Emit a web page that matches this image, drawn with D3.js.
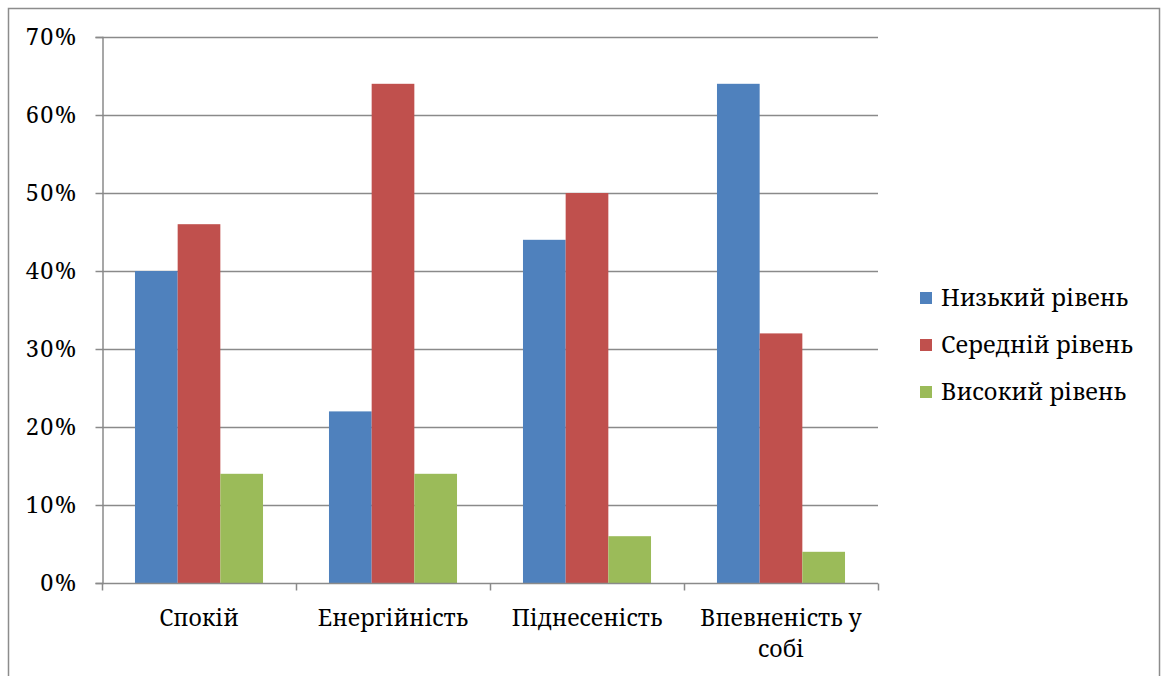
<!DOCTYPE html>
<html>
<head>
<meta charset="utf-8">
<script src="https://cdn.jsdelivr.net/npm/d3@7"></script>
<style>
  html, body { margin: 0; padding: 0; background: #fff; }
  svg { display: block; }
</style>
</head>
<body>
<script>
// Categories, series and values
const categories = ["Спокій", "Енергійність", "Піднесеність", "Впевненість у собі"];
const seriesNames = ["Низький рівень", "Середній рівень", "Високий рівень"];
const lowLevel = [40, 22, 44, 64];
const midLevel = [46, 64, 50, 32];
const highLevel = [14, 14, 6, 4];
const seriesColors = ["#4F81BD", "#C0504D", "#9BBB59"];
const yTicks = [0, 10, 20, 30, 40, 50, 60, 70];

const seriesValues = [lowLevel, midLevel, highLevel];
const W = 1169, H = 676;
const font = "'Noto Serif', serif";

const svg = d3.select("body").append("svg").attr("width", W).attr("height", H);

// outer chart frame
svg.append("rect")
  .attr("x", 8.5).attr("y", 8.5).attr("width", 1151).attr("height", 700)
  .attr("fill", "none").attr("stroke", "#8c8c8c").attr("stroke-width", 1.5);

const plot = { left: 102, right: 878, top: 37, bottom: 583 };

const x0 = d3.scaleBand().domain(categories).range([plot.left, plot.right]).padding(0);
const x1 = d3.scaleBand().domain(seriesNames)
  .range([x0.bandwidth() * 0.17, x0.bandwidth() * 0.83]).padding(0);
const y = d3.scaleLinear().domain([0, 70]).range([plot.bottom, plot.top]);

const gridColor = "#8a8a8a";

// horizontal gridlines
svg.append("g").selectAll("line").data(yTicks.filter(t => t > 0)).join("line")
  .attr("x1", plot.left).attr("x2", plot.right)
  .attr("y1", d => Math.round(y(d)) + 0.5).attr("y2", d => Math.round(y(d)) + 0.5)
  .attr("stroke", gridColor).attr("stroke-width", 1.5);

// y axis
const yAxis = d3.axisLeft(y).tickValues(yTicks).tickFormat(d => d + "%").tickSize(7).tickPadding(18);
const gy = svg.append("g").attr("transform", `translate(${plot.left + 0.5},0)`).call(yAxis)
  .attr("font-family", null).attr("font-size", null);
gy.select(".domain").attr("stroke", gridColor).attr("stroke-width", 1.5);
gy.selectAll(".tick line").attr("stroke", gridColor).attr("stroke-width", 1.5);
gy.selectAll(".tick text")
  .style("font-family", font).style("font-size", "23.5px").style("letter-spacing", "1.5px")
  .attr("fill", "#000");

// bars
const groups = svg.append("g").selectAll("g").data(categories).join("g")
  .attr("transform", d => `translate(${x0(d)},0)`);
groups.selectAll("rect")
  .data((c, i) => seriesNames.map((s, k) => ({ s, k, v: seriesValues[k][i] })))
  .join("rect")
  .attr("x", d => x1(d.s))
  .attr("width", x1.bandwidth())
  .attr("y", d => y(d.v))
  .attr("height", d => y(0) - y(d.v))
  .attr("fill", d => seriesColors[d.k]);

// x axis with category ticks at band boundaries
const gx = svg.append("g").attr("transform", `translate(0,${plot.bottom + 0.5})`);
gx.append("line").attr("x1", plot.left).attr("x2", plot.right)
  .attr("stroke", gridColor).attr("stroke-width", 1.5);
const bounds = categories.map(c => x0(c)).concat([plot.right]);
gx.selectAll("line.tk").data(bounds).join("line").attr("class", "tk")
  .attr("x1", d => d + 0.5).attr("x2", d => d + 0.5).attr("y1", 0).attr("y2", 7)
  .attr("stroke", gridColor).attr("stroke-width", 1.5);

// category labels, wrapped when too wide
const labelLines = { "Впевненість у собі": ["Впевненість у", "собі"] };
gx.selectAll("text.cat").data(categories).join("text").attr("class", "cat")
  .style("font-family", font).style("font-size", "23px").attr("fill", "#000")
  .attr("text-anchor", "middle")
  .each(function (c) {
    const lines = labelLines[c] || [c];
    const t = d3.select(this);
    lines.forEach((ln, i) => {
      t.append("tspan").attr("x", x0(c) + x0.bandwidth() / 2)
        .attr("y", 42 + i * 31).text(ln);
    });
  });

// legend
const legend = svg.append("g").attr("transform", "translate(920,298)");
const items = legend.selectAll("g").data(seriesNames).join("g")
  .attr("transform", (d, i) => `translate(0,${i * 47})`);
items.append("rect").attr("x", 0).attr("y", -6).attr("width", 12).attr("height", 12)
  .attr("fill", (d, i) => seriesColors[i]);
items.append("text").attr("x", 21).attr("y", 8)
  .style("font-family", font).style("font-size", "23.5px").attr("fill", "#000")
  .text(d => d);
</script>
</body>
</html>
